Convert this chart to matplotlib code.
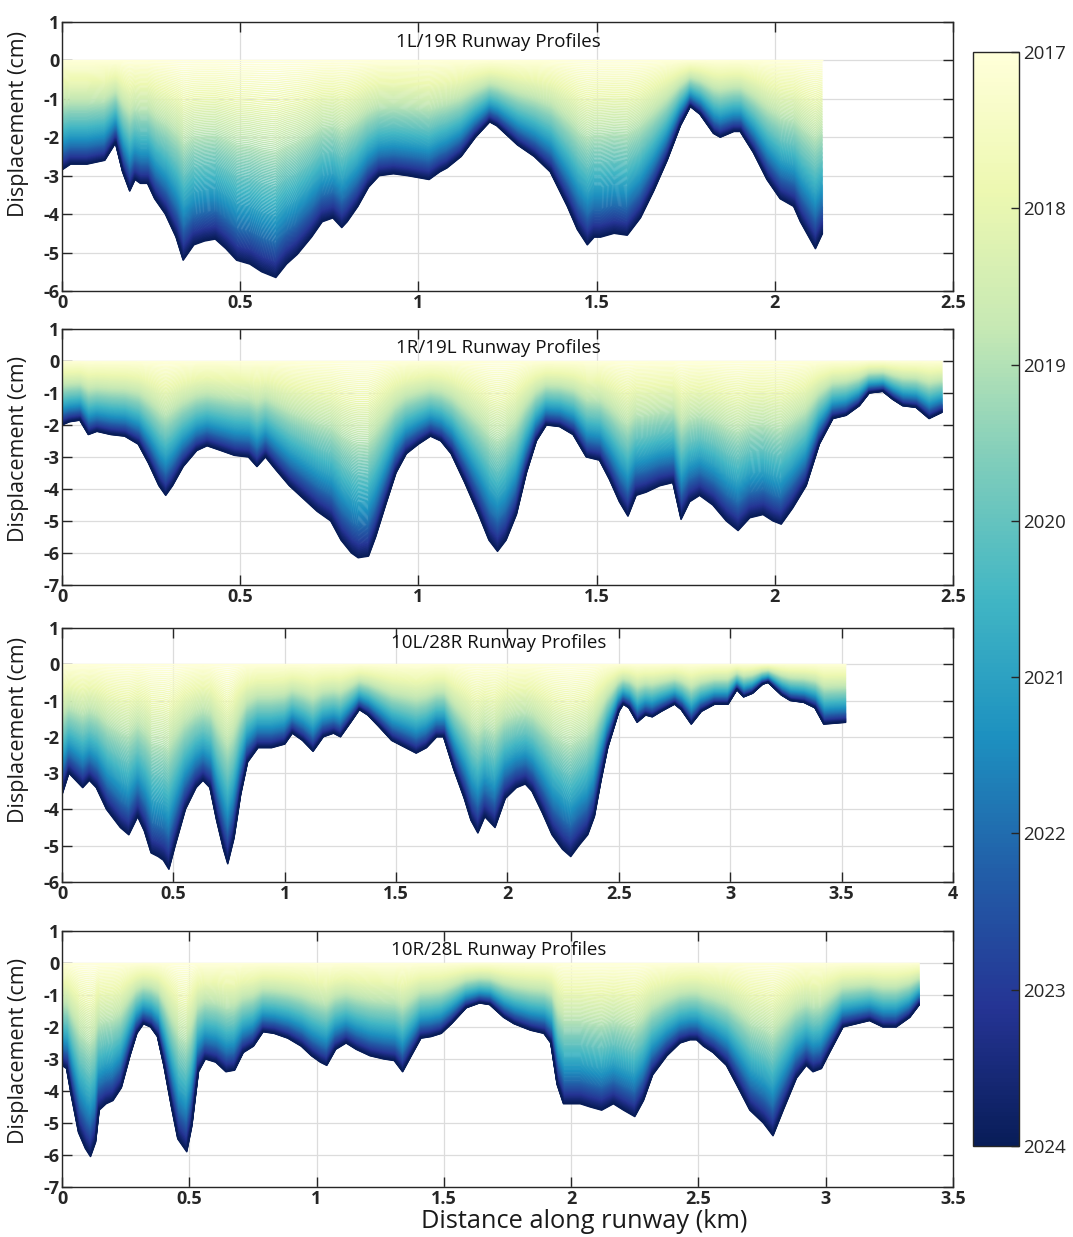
import numpy as np
import matplotlib
matplotlib.use("Agg")
import matplotlib.pyplot as plt
from matplotlib.collections import LineCollection
from matplotlib.colors import Normalize
from matplotlib.cm import ScalarMappable

plt.rcParams["font.family"] = ["Open Sans", "DejaVu Sans"]
plt.rcParams["axes.unicode_minus"] = False

# Final (2024) displacement profile of each runway
dist_1l = [0, 0.024, 0.07, 0.12, 0.15, 0.17, 0.19, 0.205, 0.22, 0.24, 0.26, 0.29, 0.32, 0.34,
           0.37, 0.40, 0.43, 0.46, 0.49, 0.527, 0.56, 0.60, 0.63, 0.66, 0.70, 0.73, 0.76,
           0.785, 0.80, 0.83, 0.86, 0.89, 0.93, 0.97, 1.0, 1.03, 1.06, 1.08, 1.12, 1.16,
           1.20, 1.22, 1.278, 1.325, 1.37, 1.418, 1.446, 1.474, 1.493, 1.511, 1.549, 1.586,
           1.623, 1.66, 1.698, 1.735, 1.763, 1.79, 1.828, 1.847, 1.885, 1.903, 1.94, 1.978,
           2.015, 2.053, 2.072, 2.114, 2.134]
disp_1l = [-2.85, -2.7, -2.7, -2.6, -2.15, -2.9, -3.4, -3.1, -3.2, -3.2, -3.6, -4.0, -4.6, -5.2,
           -4.8, -4.7, -4.65, -4.9, -5.2, -5.3, -5.5, -5.65, -5.3, -5.05, -4.6, -4.2, -4.1,
           -4.35, -4.2, -3.8, -3.3, -3.0, -2.95, -3.0, -3.05, -3.1, -2.9, -2.8, -2.5, -2.0,
           -1.6, -1.7, -2.2, -2.5, -2.9, -3.8, -4.4, -4.8, -4.6, -4.6, -4.5, -4.55,
           -4.1, -3.4, -2.6, -1.7, -1.2, -1.4, -1.9, -2.0, -1.85, -1.85, -2.4, -3.1,
           -3.6, -3.8, -4.2, -4.9, -4.5]

dist_1r = [0, 0.021, 0.05, 0.074, 0.098, 0.137, 0.176, 0.214, 0.243, 0.272, 0.291, 0.31, 0.34,
           0.378, 0.407, 0.446, 0.484, 0.523, 0.547, 0.571, 0.60, 0.638, 0.677, 0.716, 0.754,
           0.783, 0.812, 0.831, 0.86, 0.88, 0.908, 0.937, 0.966, 1.0, 1.034, 1.063, 1.092,
           1.13, 1.169, 1.198, 1.222, 1.246, 1.275, 1.303, 1.331, 1.359, 1.396, 1.434, 1.471,
           1.508, 1.536, 1.564, 1.588, 1.611, 1.639, 1.677, 1.714, 1.737, 1.761, 1.789, 1.826,
           1.864, 1.897, 1.93, 1.967, 1.995, 2.018, 2.05, 2.088, 2.125, 2.163, 2.20, 2.237,
           2.265, 2.303, 2.331, 2.359, 2.396, 2.433, 2.47]
disp_1r = [-2.0, -1.9, -1.85, -2.3, -2.2, -2.3, -2.35, -2.6, -3.2, -3.9, -4.2, -3.9, -3.3,
           -2.8, -2.65, -2.8, -2.95, -3.0, -3.3, -3.0, -3.4, -3.9, -4.3, -4.7, -5.0,
           -5.6, -6.0, -6.15, -6.1, -5.5, -4.5, -3.5, -2.9, -2.6, -2.35, -2.5, -2.9,
           -3.8, -4.8, -5.6, -5.95, -5.6, -4.8, -3.5, -2.5, -2.0, -2.05, -2.3, -3.0,
           -3.1, -3.7, -4.4, -4.85, -4.2, -4.1, -3.9, -3.8, -4.95, -4.4, -4.2, -4.5,
           -5.0, -5.3, -4.9, -4.8, -5.0, -5.1, -4.6, -3.9, -2.6, -1.8, -1.7, -1.4,
           -1.0, -0.95, -1.2, -1.4, -1.45, -1.8, -1.6]

dist_10l = [0, 0.031, 0.062, 0.093, 0.123, 0.154, 0.20, 0.262, 0.30, 0.34, 0.37, 0.40, 0.432,
            0.455, 0.48, 0.508, 0.554, 0.602, 0.633, 0.664, 0.694, 0.725, 0.744, 0.772, 0.802,
            0.833, 0.88, 0.941, 1.0, 1.034, 1.08, 1.127, 1.173, 1.219, 1.25, 1.296, 1.335,
            1.373, 1.42, 1.48, 1.543, 1.59, 1.636, 1.682, 1.713, 1.759, 1.806, 1.836, 1.867,
            1.898, 1.944, 1.99, 2.04, 2.08, 2.11, 2.157, 2.20, 2.247, 2.284, 2.32, 2.36, 2.39,
            2.42, 2.45, 2.50, 2.52, 2.545, 2.582, 2.62, 2.65, 2.69, 2.75, 2.78, 2.825, 2.87,
            2.93, 2.99, 3.03, 3.06, 3.10, 3.145, 3.17, 3.23, 3.27, 3.33, 3.38, 3.42, 3.52]
disp_10l = [-3.6, -3.0, -3.2, -3.4, -3.2, -3.4, -4.0, -4.5, -4.7, -4.2, -4.6, -5.2, -5.3,
            -5.4, -5.65, -5.0, -4.0, -3.4, -3.2, -3.4, -4.3, -5.1, -5.5, -4.8, -3.6,
            -2.7, -2.3, -2.3, -2.2, -1.9, -2.1, -2.4, -2.0, -1.9, -2.0, -1.6, -1.25,
            -1.4, -1.7, -2.1, -2.3, -2.45, -2.3, -2.0, -2.0, -2.9, -3.7, -4.3, -4.65,
            -4.2, -4.5, -3.7, -3.4, -3.3, -3.5, -4.1, -4.7, -5.1, -5.3, -5.0, -4.7, -4.2,
            -3.2, -2.3, -1.3, -1.1, -1.2, -1.6, -1.4, -1.45, -1.3, -1.1, -1.25, -1.65, -1.3,
            -1.1, -1.1, -0.7, -0.9, -0.8, -0.55, -0.5, -0.85, -1.0, -1.05, -1.2, -1.65, -1.6]

dist_10r = [0, 0.018, 0.038, 0.065, 0.092, 0.112, 0.132, 0.146, 0.173, 0.20, 0.233, 0.267, 0.294,
            0.32, 0.348, 0.375, 0.40, 0.43, 0.455, 0.49, 0.51, 0.536, 0.563, 0.604, 0.644,
            0.678, 0.712, 0.752, 0.79, 0.833, 0.887, 0.94, 0.98, 1.015, 1.04, 1.075, 1.116,
            1.156, 1.21, 1.264, 1.305, 1.338, 1.372, 1.41, 1.45, 1.49, 1.53, 1.588, 1.64,
            1.68, 1.735, 1.776, 1.84, 1.893, 1.92, 1.945, 1.97, 2.0, 2.036, 2.075, 2.12, 2.166,
            2.206, 2.25, 2.284, 2.32, 2.376, 2.428, 2.467, 2.493, 2.52, 2.558, 2.61, 2.65,
            2.702, 2.755, 2.793, 2.833, 2.885, 2.924, 2.95, 2.983, 3.015, 3.068, 3.12, 3.172,
            3.225, 3.277, 3.33, 3.368]
disp_10r = [-3.2, -3.3, -4.2, -5.3, -5.8, -6.05, -5.6, -4.6, -4.4, -4.3, -3.9, -2.9, -2.2,
            -1.9, -2.0, -2.3, -3.2, -4.5, -5.5, -5.9, -5.1, -3.4, -3.0, -3.1, -3.4,
            -3.35, -2.8, -2.6, -2.15, -2.2, -2.35, -2.6, -2.9, -3.1, -3.2, -2.7, -2.5,
            -2.7, -2.9, -3.0, -3.05, -3.4, -2.9, -2.35, -2.3, -2.2, -1.9, -1.4, -1.25,
            -1.3, -1.7, -1.9, -2.1, -2.2, -2.5, -3.8, -4.4, -4.4, -4.4, -4.5, -4.6, -4.4,
            -4.6, -4.8, -4.3, -3.5, -2.9, -2.5, -2.4, -2.4, -2.6, -2.8, -3.2, -3.8,
            -4.6, -5.0, -5.4, -4.6, -3.6, -3.2, -3.4, -3.3, -2.8, -2.0, -1.9, -1.8,
            -2.0, -2.0, -1.7, -1.3]

runway_names = ["1L/19R", "1R/19L", "10L/28R", "10R/28L"]
runway_dist = [dist_1l, dist_1r, dist_10l, dist_10r]
runway_disp = [disp_1l, disp_1r, disp_10l, disp_10r]
x_limits = [2.5, 2.5, 4, 3.5]
y_bottoms = [-6, -7, -6, -7]

# cumulative share of the total subsidence reached at the start of each year
years = [2017, 2018, 2019, 2020, 2021, 2022, 2023, 2024]
cum_frac = [0.0, 0.22, 0.42, 0.58, 0.72, 0.84, 0.93, 1.0]
n_acq = 150

cmap = plt.get_cmap("YlGnBu")
norm = Normalize(2017, 2024)
acq_time = np.linspace(2017, 2024, n_acq)
acq_frac = np.interp(acq_time, years, cum_frac)

fig = plt.figure(figsize=(10.73, 12.37), dpi=100)
W, H = 1073, 1237
boxes = [(22, 291), (329, 585), (628, 882), (931, 1187)]
title_y = [0.926, 0.926, 0.94, 0.926]
ylabel_y = [0.62, 0.53, 0.6, 0.53]
tick_color = "#262626"

for i in range(4):
    top, bot = boxes[i]
    ax = fig.add_axes([62 / W, 1 - bot / H, 891 / W, (bot - top) / H])
    x = np.array(runway_dist[i])
    y = np.array(runway_disp[i])
    segs = [np.column_stack([x, y * f]) for f in acq_frac]
    lc = LineCollection(segs, colors=cmap(norm(acq_time)), linewidths=1.0)
    ax.add_collection(lc)

    ax.set_xlim(0, x_limits[i])
    ax.set_ylim(y_bottoms[i], 1)
    xt = np.arange(0, x_limits[i] + 0.01, 0.5)
    ax.set_xticks(xt)
    ax.set_xticklabels([("%g" % v) for v in xt])
    ax.set_yticks(np.arange(y_bottoms[i], 1.01, 1))
    ax.grid(True, color="#dcdcdc", linewidth=0.9)
    ax.set_axisbelow(True)
    ax.tick_params(direction="in", top=True, right=True, length=7, width=1,
                   colors=tick_color, labelsize=13, pad=2)
    for lab in ax.get_xticklabels() + ax.get_yticklabels():
        lab.set_fontweight("bold")
    for s in ax.spines.values():
        s.set_color(tick_color)
        s.set_linewidth(1.0)
    ax.set_ylabel("Displacement (cm)", fontsize=15.5, color="#1a1a1a")
    ax.yaxis.set_label_coords(-0.037, ylabel_y[i])
    ax.text(0.49, title_y[i], runway_names[i] + " Runway Profiles", transform=ax.transAxes,
            ha="center", va="center", fontsize=13.5, color="#111111")

fig.text(584 / W, 1 - 1222 / H, "Distance along runway (km)", ha="center", va="center",
         fontsize=18.3, color="#1a1a1a")

cax = fig.add_axes([973 / W, 1 - 1146 / H, 46 / W, 1094 / H])
cb = fig.colorbar(ScalarMappable(norm=norm, cmap=cmap), cax=cax)
cb.set_ticks(years)
cb.set_ticklabels([str(v) for v in years])
cax.invert_yaxis()
cax.tick_params(direction="in", length=6, width=1, colors=tick_color, labelsize=13.5, pad=3)
cb.outline.set_edgecolor(tick_color)
cb.outline.set_linewidth(1.0)

plt.savefig("out.png", dpi=100)
